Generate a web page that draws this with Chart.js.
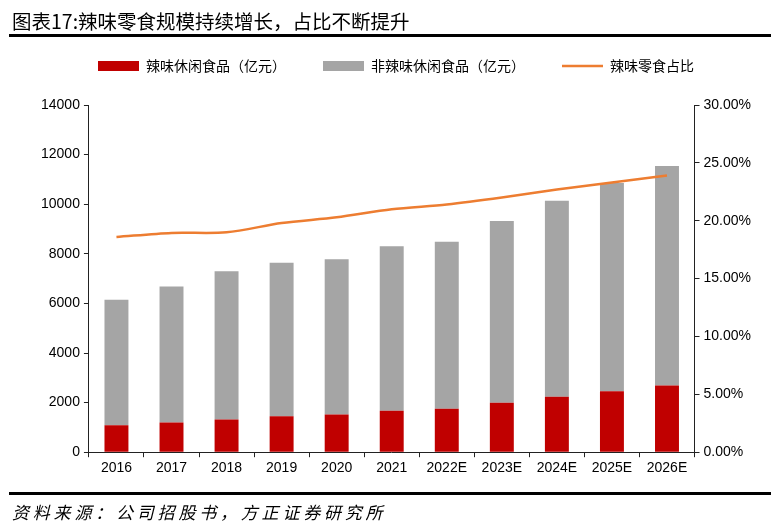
<!DOCTYPE html>
<html>
<head>
<meta charset="utf-8">
<script src="https://cdn.jsdelivr.net/npm/chart.js@4/dist/chart.umd.min.js"></script>
<style>
  html, body { margin: 0; padding: 0; background: #fff; }
  #wrap { position: relative; width: 777px; height: 525px; overflow: hidden; }
  #chart { position: absolute; left: 0; top: 0; }
  .title {
    position: absolute; left: 12px; top: 6px;
    font: 19.5px "Noto Sans CJK SC", sans-serif; color: #000; white-space: nowrap;
  }
  .rule { position: absolute; left: 9px; width: 762px; height: 3px; background: #000; }
  .source {
    position: absolute; left: 12px; top: 499px;
    font: italic 17px "Noto Sans CJK SC", sans-serif; letter-spacing: 3.8px; color: #000; white-space: nowrap;
  }
</style>
</head>
<body>
<div id="wrap">
  <canvas id="chart" width="777" height="525"></canvas>
  <div class="title">图表17:辣味零食规模持续增长，占比不断提升</div>
  <div class="rule" style="top:34px"></div>
  <div class="rule" style="top:492px"></div>
  <div class="source">资料来源：公司招股书，方正证券研究所</div>
</div>
<script>
// data
const years = ["2016", "2017", "2018", "2019", "2020", "2021", "2022E", "2023E", "2024E", "2025E", "2026E"];
const spicySnacks = [1090, 1200, 1320, 1445, 1525, 1670, 1750, 1995, 2240, 2455, 2685];      // 辣味休闲食品（亿元）
const otherSnacks = [5060, 5480, 5980, 6195, 6260, 6630, 6740, 7330, 7895, 8395, 8855];      // 非辣味休闲食品（亿元）
const spicyShare = [18.6, 18.95, 19.0, 19.8, 20.3, 21.0, 21.4, 22.0, 22.7, 23.3, 23.9];     // 辣味零食占比 (%)

const tickFont = { family: "'Liberation Sans', Arial, sans-serif", size: 14 };
const axisColor = "#222";

// push the plot area down below the legend
const legendGap = {
  id: "legendGap",
  beforeInit(chart) {
    const fitLegend = chart.legend.fit;
    chart.legend.fit = function () {
      fitLegend.call(this);
      this.height += 22;
    };
  }
};

new Chart(document.getElementById("chart"), {
  type: "bar",
  data: {
    labels: years,
    datasets: [
      {
        label: "辣味休闲食品（亿元）",
        data: spicySnacks,
        backgroundColor: "#C00000",
        borderWidth: 0,
        pointStyle: "rect",
        yAxisID: "y",
        order: 1,
      },
      {
        label: "非辣味休闲食品（亿元）",
        data: otherSnacks,
        backgroundColor: "#A5A5A5",
        borderWidth: 0,
        pointStyle: "rect",
        yAxisID: "y",
        order: 1,
      },
      {
        type: "line",
        label: "辣味零食占比",
        data: spicyShare,
        borderColor: "#ED7D31",
        backgroundColor: "#ED7D31",
        borderWidth: 2.5,
        pointRadius: 0,
        pointStyle: "line",
        tension: 0.3,
        yAxisID: "y1",
        order: 0,
      },
    ],
  },
  options: {
    responsive: false,
    animation: false,
    barPercentage: 0.435,
    categoryPercentage: 1,
    layout: { padding: { top: 22, left: 37, right: 22, bottom: 45 } },
    plugins: {
      tooltip: { enabled: false },
      legend: {
        position: "top",
        labels: {
          usePointStyle: true,
          pointStyleWidth: 41,
          boxHeight: 10,
          padding: 37,
          color: "#000",
          font: { family: "'Noto Sans CJK SC', sans-serif", size: 14 },
          sort: (a, b) => a.datasetIndex - b.datasetIndex,
        },
      },
    },
    scales: {
      x: {
        stacked: true,
        grid: { drawOnChartArea: false, tickLength: 5, color: axisColor },
        border: { color: axisColor, width: 1 },
        ticks: { color: "#000", font: tickFont, padding: 3 },
      },
      y: {
        stacked: true,
        min: 0,
        max: 14000,
        ticks: { stepSize: 2000, color: "#000", font: tickFont, padding: 4, callback: (v) => String(v) },
        grid: { drawOnChartArea: false, tickLength: 5, color: axisColor },
        border: { color: axisColor, width: 1 },
      },
      y1: {
        position: "right",
        min: 0,
        max: 30,
        ticks: {
          stepSize: 5,
          color: "#000",
          font: tickFont,
          padding: 4,
          callback: (v) => v.toFixed(2) + "%",
        },
        grid: { drawOnChartArea: false, tickLength: 5, color: axisColor },
        border: { color: axisColor, width: 1 },
      },
    },
  },
  plugins: [legendGap],
});
</script>
</body>
</html>
